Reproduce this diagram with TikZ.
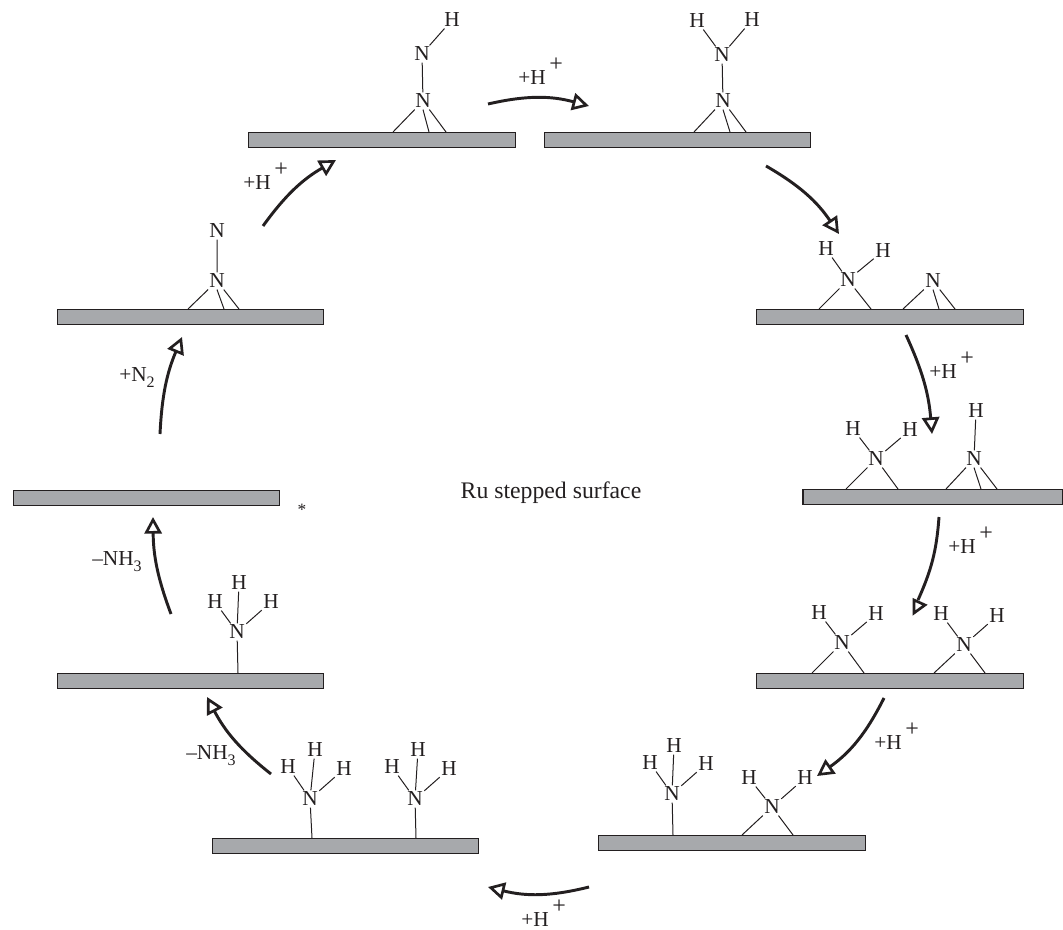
\documentclass[tikz,border=0pt]{standalone}
\usepackage{fontspec}
\setmainfont{Liberation Serif}
\usetikzlibrary{arrows.meta}
\definecolor{slabgray}{HTML}{A7A9AC}
\definecolor{ink}{HTML}{231F20}
\tikzset{
  slab/.style={draw=ink,line width=0.9pt,fill=slabgray,minimum width=200pt,minimum height=11.6pt,inner sep=0pt,outer sep=0pt},
  atom/.style={font=\fontsize{16}{16}\selectfont,text=ink,inner sep=1pt},
  lab/.style={font=\fontsize{16}{16}\selectfont,text=ink,inner sep=0pt},
  bond/.style={draw=ink,line width=0.75pt},
  rxnline/.style={draw=ink,line width=2.2pt},
  rxn/.style={rxnline,-{Triangle[open,length=12.5pt,width=13pt,line width=2pt]}},
  openhead/.style={draw=ink,line width=2pt,fill=white,line join=miter},
}
\newcommand{\plusH}{+H\rlap{\kern2.8pt\smash{\raisebox{10pt}{\fontsize{18}{18}\selectfont +}}}}
\newcommand{\lowsub}[1]{\rlap{\smash{\raisebox{-4pt}{\fontsize{12}{12}\selectfont #1}}}}
\begin{document}
\begin{tikzpicture}[x=0.75pt,y=-0.75pt]
\useasboundingbox (0,0) rectangle (1063,930);
% slabs
\node[slab] (s1) at (382,140) {};
\node[slab] (s2) at (677.5,140) {};
\node[slab] (s3) at (890,317) {};
\node[slab,minimum width=195pt] (s4) at (933,497) {};
\node[slab] (s5) at (890,681) {};
\node[slab] (s6) at (732,843) {};
\node[slab] (s7) at (345.5,846) {};
\node[slab] (s8) at (190.5,681) {};
\node[slab] (s9) at (146.5,498) {};
\node[slab] (s10) at (190.5,317) {};
% surface contact points
\foreach \n/\x/\y in {c1a/393/132,c1b/429/132,c1c/446/132,c2a/694/132,c2b/730/132,c2c/746/132,
  c3a/819/309,c3b/871/309,c3c/903/309,c3d/939/309,c3e/955/309,
  c4a/846/489,c4b/898/489,c4c/946/489,c4d/981/489,c4e/997/489,
  c5a/812/673,c5b/864/673,c5c/934/673,c5d/985/673,
  c6a/673/835,c6b/742/835,c6c/793/835,
  c7a/312/838,c7b/416/838,c8a/238/673,
  c10a/188/309,c10b/224/309,c10c/239/309}
  {\coordinate (\n) at (\x,\y);}
% state 1
\node[atom] (n1a) at (423,101) {N};
\node[atom] (n1b) at (422,54) {N};
\node[atom] (h1a) at (452,20) {H};
\draw[bond] (n1a)--(n1b) (n1b)--(h1a) (n1a)--(c1a) (n1a.south)--(c1b) (n1a)--(c1c);
% state 2
\node[atom] (n2a) at (723,101) {N};
\node[atom] (n2b) at (722,55) {N};
\node[atom] (h2a) at (697,21) {H};
\node[atom] (h2b) at (752,20) {H};
\draw[bond] (n2a)--(n2b) (n2b)--(h2a) (n2b)--(h2b) (n2a)--(c2a) (n2a.south)--(c2b) (n2a)--(c2c);
% state 3
\node[atom] (n3a) at (848,280) {N};
\node[atom] (h3a) at (826,249) {H};
\node[atom] (h3b) at (883,251) {H};
\node[atom] (n3b) at (933,281) {N};
\draw[bond] (n3a)--(h3a) (n3a)--(h3b) (n3a)--(c3a) (n3a)--(c3b) (n3b)--(c3c) (n3b.south)--(c3d) (n3b)--(c3e);
% state 4
\node[atom] (n4a) at (876,459) {N};
\node[atom] (h4a) at (853,429) {H};
\node[atom] (h4b) at (910,430) {H};
\node[atom] (n4b) at (974,459) {N};
\node[atom] (h4c) at (976,411) {H};
\draw[bond] (n4a)--(h4a) (n4a)--(h4b) (n4a)--(c4a) (n4a)--(c4b) (n4b)--(h4c) (n4b)--(c4c) (n4b.south)--(c4d) (n4b)--(c4e);
% state 5
\node[atom] (n5a) at (842,643) {N};
\node[atom] (h5a) at (819,613) {H};
\node[atom] (h5b) at (876,614) {H};
\node[atom] (n5b) at (964,645) {N};
\node[atom] (h5c) at (941,614) {H};
\node[atom] (h5d) at (997,616) {H};
\draw[bond] (n5a)--(h5a) (n5a)--(h5b) (n5a)--(c5a) (n5a)--(c5b) (n5b)--(h5c) (n5b)--(h5d) (n5b)--(c5c) (n5b)--(c5d);
% state 6
\node[atom] (n6a) at (672,794) {N};
\node[atom] (h6a) at (650,763) {H};
\node[atom] (h6b) at (674,746) {H};
\node[atom] (h6c) at (706,764) {H};
\node[atom] (n6b) at (772,807) {N};
\node[atom] (h6d) at (749,778) {H};
\node[atom] (h6e) at (805,778) {H};
\draw[bond] (n6a)--(h6a) (n6a)--(h6b) (n6a)--(h6c) (n6a)--(c6a) (n6b)--(h6d) (n6b)--(h6e) (n6b)--(c6b) (n6b)--(c6c);
% state 7
\node[atom] (n7a) at (310,799) {N};
\node[atom] (h7a) at (288,767) {H};
\node[atom] (h7b) at (315,750) {H};
\node[atom] (h7c) at (344,769) {H};
\node[atom] (n7b) at (415,799) {N};
\node[atom] (h7d) at (392,767) {H};
\node[atom] (h7e) at (418,750) {H};
\node[atom] (h7f) at (449,769) {H};
\draw[bond] (n7a)--(h7a) (n7a)--(h7b) (n7a)--(h7c) (n7a)--(c7a) (n7b)--(h7d) (n7b)--(h7e) (n7b)--(h7f) (n7b)--(c7b);
% state 8
\node[atom] (n8a) at (237,632) {N};
\node[atom] (h8a) at (215,602) {H};
\node[atom] (h8b) at (239,583) {H};
\node[atom] (h8c) at (271,602) {H};
\draw[bond] (n8a)--(h8a) (n8a)--(h8b) (n8a)--(h8c) (n8a)--(c8a);
% state 10
\node[atom] (n10a) at (217,281) {N};
\node[atom] (n10b) at (217,231) {N};
\draw[bond] (n10a)--(n10b) (n10a)--(c10a) (n10a.south)--(c10b) (n10a)--(c10c);
% arrows
\foreach \n/\x/\y in {a1s/488/104,a1e/589/106,a2s/766/166,a2e/839/234,a3s/906/335,a3e/932/434,
  a4s/939/517,a4e/918/600,a5s/884/698,a5e/817/776,a6s/589/887,a6e/488/887,
  a7s/271/774,a7e/207/697,a8s/171/614,a8e/153/517,a9s/160/434,a9e/182/337,a10s/263/226,a10e/336/160,
  h4a/914/600,h4b/914/613,h4c/925/605}
  {\coordinate (\n) at (\x,\y);}
\draw[rxn] (a1s) to[bend left=14] (a1e);
\draw[rxn] (a2s) to[bend left=13] (a2e);
\draw[rxn] (a3s) to[bend left=10] (a3e);
\draw[rxnline] (a4s) to[bend left=10] (a4e);
\draw[openhead] (h4a) -- (h4b) -- (h4c) -- cycle;
\draw[rxn] (a5s) to[bend left=14] (a5e);
\draw[rxn] (a6s) to[bend left=14] (a6e);
\draw[rxn] (a7s) to[bend left=12] (a7e);
\draw[rxn] (a8s) to[bend left=10] (a8e);
\draw[rxn] (a9s) to[bend left=10] (a9e);
\draw[rxn] (a10s) to[bend left=12] (a10e);
% labels
\node[lab] (l1) at (532,78) {\plusH};
\node[lab] (l2) at (257,183) {\plusH};
\node[lab] (l3) at (943,372) {\plusH};
\node[lab] (l4) at (962,547) {\plusH};
\node[lab] (l5) at (888,743) {\plusH};
\node[lab] (l6) at (535,920) {\plusH};
\node[lab] (l7) at (113,559) {–NH\lowsub{3}};
\node[lab] (l8) at (207,753) {–NH\lowsub{3}};
\node[lab] (l9) at (133,375) {+N\lowsub{2}};
\node[lab,font=\fontsize{13}{13}\selectfont] (l10) at (302,510) {*};
\node[lab,font=\fontsize{17.8}{18}\selectfont] (l11) at (551,493) {Ru stepped surface};
\end{tikzpicture}
\end{document}
